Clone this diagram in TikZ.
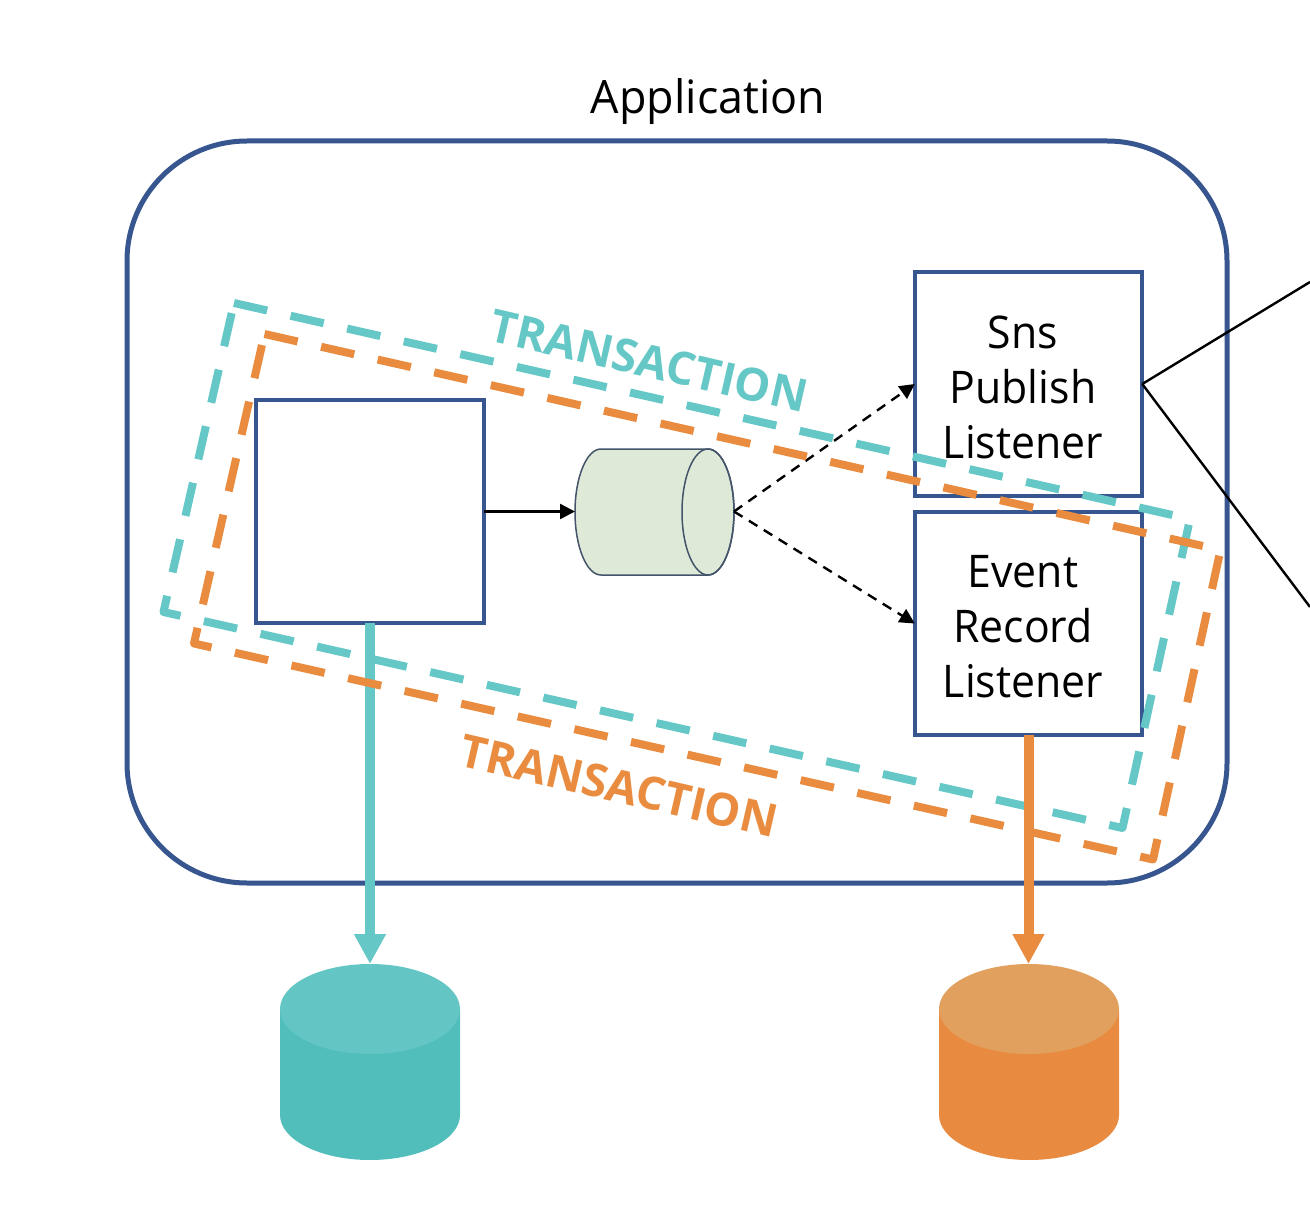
\documentclass[tikz,border=0pt]{standalone}
\usepackage{fontspec}
\setmainfont{Open Sans}
\newfontfamily\titlefont[FakeStretch=0.975]{Open Sans}
\newfontfamily\boxfont[FakeStretch=0.95]{Open Sans}
\usetikzlibrary{arrows.meta}
\definecolor{frameblue}{HTML}{37568F}
\definecolor{tealline}{HTML}{65C8C6}
\definecolor{orangeline}{HTML}{E98C40}
\definecolor{tealbody}{HTML}{52BEBB}
\definecolor{tealtop}{HTML}{64C6C4}
\definecolor{orangebody}{HTML}{E88B40}
\definecolor{orangetop}{HTML}{E2A05E}
\definecolor{queuefill}{HTML}{DEEAD7}
\definecolor{queueline}{HTML}{44546A}
\tikzset{
  appframe/.style={draw=frameblue,line width=5pt,rounded corners=120pt,inner sep=0pt,outer sep=0pt,minimum width=1100pt,minimum height=742pt},
  compbox/.style={draw=frameblue,line width=4pt,fill=white,inner sep=0pt,outer sep=0pt,minimum width=227.5pt,minimum height=223.5pt,align=center,font=\boxfont\fontsize{45}{55}\selectfont},
  txdash/.style={line width=8pt,line join=round,dash pattern=on 34pt off 24pt},
  thinarrow/.style={line width=2.4pt,-{Triangle[length=15pt,width=15pt]}},
  thinline/.style={line width=2.4pt},
  fatarrow/.style={line width=10pt,-{Triangle[length=30pt,width=30pt]}},
  txlabel/.style={font=\fontsize{45.5}{54}\bfseries\selectfont,rotate=-13,inner sep=0pt},
  anchorbox/.style={inner sep=0pt,outer sep=0pt}
}
\newcommand{\tl}{\kern11pt}
\newcommand{\dn}{\rule{0pt}{39pt}}
\begin{document}
\begin{tikzpicture}[x=1pt,y=-1pt]
\useasboundingbox (0,0) rectangle (1310,1206);
\node[font=\titlefont\fontsize{46}{54}\selectfont,inner sep=0pt] (apptitle) at (708,102) {Application};
\node[appframe] (app) at (677,512) {};
\node[compbox] (svc) at (370,511.5) {};
\node[compbox] (sns) at (1028.5,384) {\dn Sns\tl\\Publish\tl\\Listener\tl};
\node[compbox] (evt) at (1028.5,623.5) {\dn Event\tl\\Record\tl\\Listener\tl};
% outbound connectors
\coordinate (outa) at (1310,282);
\coordinate (outb) at (1310,607);
\draw[thinline] (sns.east) -- (outa);
\draw[thinline] (sns.east) -- (outb);
% queue
\node[anchorbox,minimum width=159pt,minimum height=127pt] (queue) at (654.5,511.5) {};
\draw[draw=queueline,fill=queuefill,line width=1.5pt]
  (601,449) -- (708,449) arc[start angle=90,end angle=-90,x radius=26pt,y radius=63pt]
  -- (601,575) arc[start angle=270,end angle=90,x radius=26pt,y radius=63pt] -- cycle;
\draw[draw=queueline,line width=1.5pt] (708,512) ellipse[x radius=26pt,y radius=63pt];
\draw[thinarrow] (svc.east) -- (queue.west);
\draw[thinarrow,dash pattern=on 10pt off 7.5pt] (queue.east) -- (sns.west);
\draw[thinarrow,dash pattern=on 10pt off 7.5pt] (queue.east) -- (evt.west);
% databases
\node[anchorbox,minimum width=180pt,minimum height=196pt] (dbteal) at (370,1062) {};
\fill[tealbody] (280,1009) -- (280,1115) arc[start angle=180,end angle=360,x radius=90pt,y radius=45pt] -- (460,1009) -- cycle;
\fill[tealtop] (370,1009) ellipse[x radius=90pt,y radius=45pt];
\node[anchorbox,minimum width=180pt,minimum height=196pt] (dborange) at (1028.5,1062) {};
\fill[orangebody] (939,1009) -- (939,1115) arc[start angle=180,end angle=360,x radius=90pt,y radius=45pt] -- (1119,1009) -- cycle;
\fill[orangetop] (1029,1009) ellipse[x radius=90pt,y radius=45pt];
% transactions
\coordinate (ta) at (234,303);
\coordinate (tb) at (1190,519);
\coordinate (tc) at (1122.5,828);
\coordinate (td) at (163.5,612);
\coordinate (oa) at (264.5,334);
\coordinate (ob) at (1220.5,550);
\coordinate (oc) at (1153,859.5);
\coordinate (od) at (194,643.5);
\draw[txdash,tealline] (ta) -- (tb) -- (tc) -- (td) -- cycle;
\draw[fatarrow,tealline] (svc.south) -- (dbteal.north);
\draw[txdash,orangeline] (oa) -- (ob) -- (oc) -- (od) -- cycle;
\draw[fatarrow,orangeline] (evt.south) -- (dborange.north);
\node[txlabel,text=tealline] (txteal) at (649,361) {TRANSACTION};
\node[txlabel,text=orangeline] (txorange) at (619,786) {TRANSACTION};
\end{tikzpicture}
\end{document}
